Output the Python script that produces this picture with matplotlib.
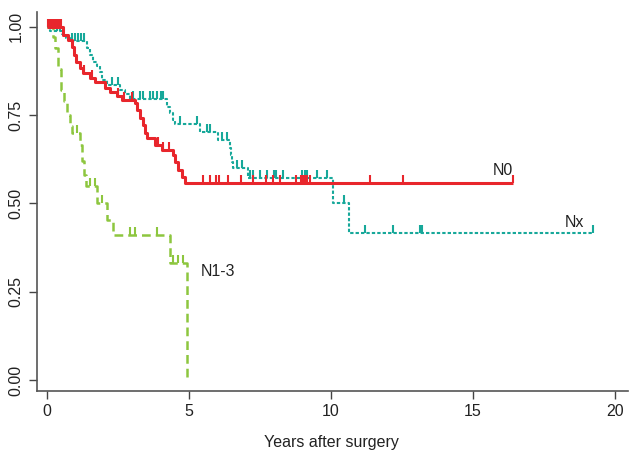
import matplotlib

matplotlib.use("Agg")
import matplotlib.pyplot as plt
import numpy as np
from matplotlib.path import Path

plt.rcParams["font.family"] = ["Liberation Sans", "DejaVu Sans"]

# N0 group: event times (years) and survival after each event
n0_times = [0.56, 0.74, 0.88, 0.95, 1.02, 1.16, 1.27, 1.51, 1.69, 2.04, 2.22, 2.46, 2.64,
            3.10, 3.17, 3.27, 3.38, 3.45, 3.52, 3.80, 4.05, 4.44, 4.51, 4.61, 4.75, 4.86]
n0_surv = [0.977, 0.963, 0.943, 0.920, 0.900, 0.884, 0.870, 0.855, 0.845, 0.827, 0.816, 0.805, 0.793,
           0.785, 0.765, 0.742, 0.722, 0.700, 0.686, 0.666, 0.652, 0.637, 0.618, 0.595, 0.575, 0.558]
n0_censor = [0.04, 0.08, 0.12, 0.16, 0.20, 0.25, 0.30, 0.35, 0.40, 0.45, 0.50,
             1.30, 1.60, 2.50, 2.70, 3.00, 3.90, 4.10, 4.30,
             5.50, 5.74, 5.95, 6.07, 6.38, 6.82, 7.24, 7.71, 7.95, 8.20, 8.77, 8.93,
             9.01, 9.08, 9.17, 9.26, 11.37, 12.55, 16.42]

# Nx group
nx_times = [0.10, 0.53, 0.67, 0.81, 1.41, 1.51, 1.62, 1.76, 1.87, 1.94, 2.11, 2.57, 2.75, 2.92,
            4.23, 4.33, 4.44, 4.51, 5.39, 6.02, 6.44, 6.48, 6.51, 6.55, 7.08, 10.07, 10.63]
nx_surv = [0.988, 0.980, 0.969, 0.960, 0.940, 0.920, 0.900, 0.890, 0.872, 0.850, 0.836, 0.820, 0.810, 0.797,
           0.773, 0.756, 0.737, 0.725, 0.703, 0.680, 0.657, 0.637, 0.618, 0.600, 0.572, 0.500, 0.417]
nx_censor = [0.35, 0.46, 0.90, 1.00, 1.10, 1.20, 1.30, 2.30, 2.50, 3.03, 3.27, 3.38, 3.63, 3.73,
             3.87, 4.00, 4.08, 4.68, 5.28, 5.63, 5.74, 6.16, 6.34, 6.69, 6.87, 7.15, 7.25, 7.50,
             7.75, 8.00, 8.06, 8.31, 8.98, 9.08, 9.15, 9.51, 9.86, 10.46, 11.20, 12.17, 13.13,
             13.19, 19.23]

# N1-3 group
n13_times = [0.21, 0.28, 0.39, 0.49, 0.60, 0.70, 0.81, 0.88, 1.16, 1.23, 1.30, 1.37, 1.76,
             2.11, 2.32, 4.33, 4.93]
n13_surv = [0.970, 0.940, 0.880, 0.820, 0.790, 0.750, 0.720, 0.700, 0.665, 0.620, 0.580, 0.548,
            0.500, 0.453, 0.410, 0.330, 0.0]
n13_censor = [1.06, 1.51, 1.69, 1.94, 2.92, 3.10, 3.86, 4.44, 4.61, 4.79]

RED = "#E8262C"
TEAL = "#17A89A"
GREEN = "#8DC63F"

TICK_UP = Path([(0, 0), (0, 1)])


def surv_at(times, surv, t):
    idx = np.searchsorted(times, t, side="right")
    return np.r_[1.0, surv][idx]


def draw_group(ax, times, surv, censor, end, color, lw, dashes):
    times = np.asarray(times)
    surv = np.asarray(surv)
    xs = np.r_[0.0, times, end]
    ys = np.r_[1.0, surv, surv[-1]]
    line, = ax.step(xs, ys, where="post", color=color, lw=lw, solid_capstyle="butt")
    if dashes:
        line.set_dashes(dashes)
    cens = np.asarray(censor)
    ax.plot(cens, surv_at(times, surv, cens), ls="none", marker=TICK_UP,
            markersize=11, markeredgewidth=1.5, color=color)


fig = plt.figure(figsize=(6.3, 4.51), dpi=100)
ax = fig.add_axes([37 / 630, 1 - 391 / 451, 591 / 630, 379 / 451])

draw_group(ax, nx_times, nx_surv, nx_censor, 19.23, TEAL, 1.5, (1.6, 1.0))
draw_group(ax, n13_times, n13_surv, n13_censor, 4.93, GREEN, 1.8, (3.5, 2.0))
draw_group(ax, n0_times, n0_surv, n0_censor, 16.42, RED, 2.2, None)

ax.text(16.06, 0.592, "N0", ha="center", va="center", fontsize=11.5, color="#222222")
ax.text(18.59, 0.445, "Nx", ha="center", va="center", fontsize=11.5, color="#222222")
ax.text(6.02, 0.306, "N1-3", ha="center", va="center", fontsize=11.5, color="#222222")

ax.set_xlim(-0.35, 20.46)
ax.set_ylim(-0.031, 1.042)
ax.set_xticks([0, 5, 10, 15, 20])
ax.set_yticks([0, 0.25, 0.5, 0.75, 1.0])
ax.set_yticklabels(["0.00", "0.25", "0.50", "0.75", "1.00"], rotation=90, va="center")
ax.tick_params(direction="out", length=6, width=1, colors="#444444", labelcolor="#222222",
               labelsize=11.5)
for side in ["top", "right"]:
    ax.spines[side].set_visible(False)
for side in ["left", "bottom"]:
    ax.spines[side].set_color("#555555")
    ax.spines[side].set_linewidth(1.2)

fig.text(331 / 630, 1 - 443 / 451, "Years after surgery", ha="center", va="center",
         fontsize=11.5, color="#222222")

fig.savefig("out.png", dpi=100)
